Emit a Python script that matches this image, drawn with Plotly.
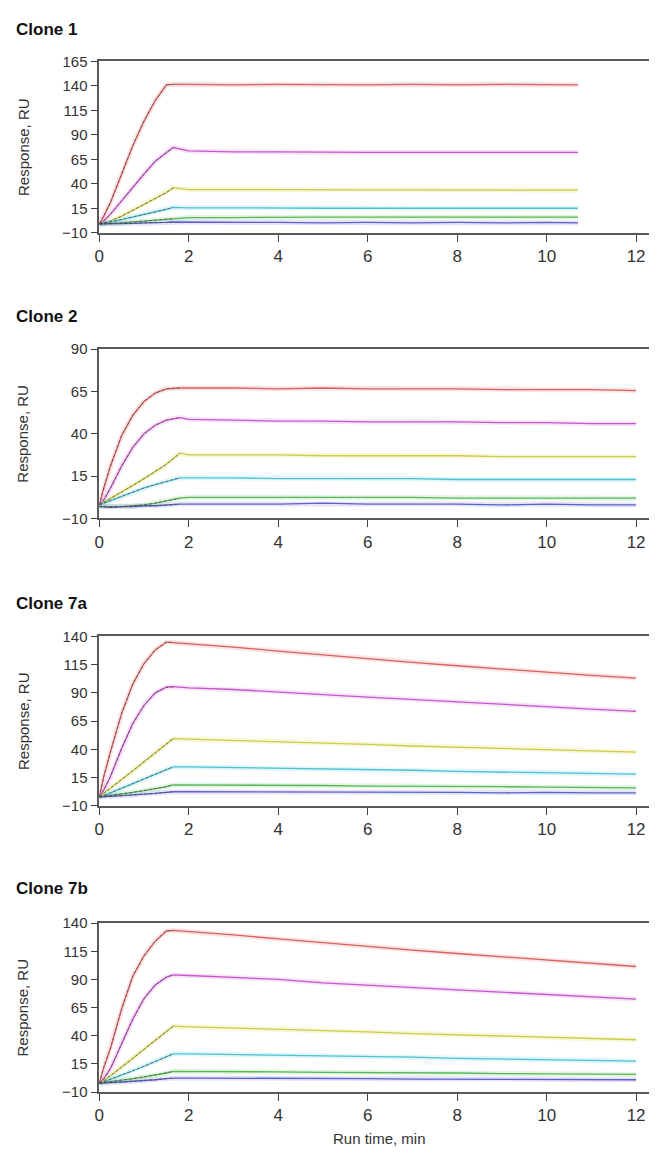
import plotly.graph_objects as go

# The page places the figure 8 px from the top-left corner of the window,
# so the figure is sized to fill the visible area.
OFF = 8
W, H = 657 - 2 * OFF, 1157 - OFF

# ---------------- data ----------------
panel_titles = ["Clone 1", "Clone 2", "Clone 7a", "Clone 7b"]
series_names = ["Red", "Magenta", "Yellow", "Cyan", "Green", "Blue"]

# Clone 1
t1 = [0, 0.1, 0.25, 0.5, 0.75, 1.0, 1.25, 1.5, 1.65, 2, 3, 4, 5, 6, 7, 8, 9, 10, 10.7]
c1_red = [-1, 7, 21, 50, 79, 104, 125, 141, 141.5, 141.5, 141, 141.5, 141, 141, 141.5, 141, 141.5, 141, 141]
c1_magenta = [-1, 2, 9, 23, 37, 50, 63, 72, 77, 73.5, 72.5, 72.5, 72, 72, 72, 72, 72, 72, 72]
c1_yellow = [-1, 0, 2, 7, 13, 19, 25, 31, 36, 34, 34, 34, 34, 33.5, 33.5, 33.5, 33.5, 33.5, 33.5]
c1_cyan = [-1, -0.5, 1, 3.5, 6, 8.5, 11, 14, 16, 15.5, 15.5, 15, 15, 15, 15, 15, 15, 15, 15]
c1_green = [-1, -1, -0.5, 0, 1, 2, 3, 4, 4.5, 5.5, 5.5, 6, 6, 6, 6, 6, 6, 6, 6]
c1_blue = [-1, -1, -1, -0.5, -0.5, 0, 0, 0.5, 1, 1, 0.5, 0.5, 0, 0.5, 0, 0.5, 0, 0.5, 0]
c1_peak = 8

# Clone 2
t2 = [0, 0.1, 0.25, 0.5, 0.75, 1.0, 1.25, 1.5, 1.8, 2, 3, 4, 5, 6, 7, 8, 9, 10, 11, 12]
c2_red = [-2, 8, 21, 39, 51, 59, 64, 66.5, 67, 67, 67, 66.5, 67, 66.5, 66.5, 66.5, 66, 66, 66, 65.5]
c2_magenta = [-2, 1, 8, 21, 32, 40, 45, 48, 49.5, 48.5, 48, 47.5, 47.5, 47, 47, 47, 46.5, 46.5, 46, 46]
c2_yellow = [-2, -0.5, 1.5, 5.5, 9.5, 13.5, 17.5, 22, 28.5, 27.5, 27.5, 27.5, 27, 27, 27, 27, 26.5, 26.5, 26.5, 26.5]
c2_cyan = [-2, -1, 0.5, 3, 5.5, 8, 10, 12, 14, 14, 14, 13.5, 13.5, 13.5, 13.5, 13, 13, 13, 13, 13]
c2_green = [-3, -3, -3, -3, -2.5, -2, -1, 0.5, 2, 2.5, 2.5, 2.5, 2.5, 2.5, 2.5, 2, 2, 2, 2, 2]
c2_blue = [-3, -3, -3.5, -3, -3, -2.5, -2.5, -2, -1.5, -1.5, -1.5, -1.5, -1, -1.5, -1.5, -1.5, -2, -1.5, -2, -2]
c2_peak = 8

# Clone 7a
t3 = [0, 0.1, 0.25, 0.5, 0.75, 1.0, 1.25, 1.5, 1.65, 2, 3, 4, 5, 6, 7, 8, 9, 10, 11, 12]
c7a_red = [-2, 16, 38, 72, 98, 116, 128, 135, 134.5, 133.5, 130.5, 127, 123.5, 120, 117, 114, 111, 108, 105.5, 103]
c7a_magenta = [-2, 4, 16, 41, 63, 79, 90, 95, 95.5, 94.5, 93, 91, 88.5, 86.2, 84, 81.8, 79.7, 77.7, 75.7, 73.7]
c7a_yellow = [-2, 1, 5.5, 13, 21, 29, 37, 45, 49.5, 49, 48, 46.5, 45.5, 44.5, 43, 42, 41, 40, 38.5, 37.5]
c7a_cyan = [-2, -1, 1.5, 5.5, 9.5, 13.5, 17.5, 22, 24.5, 24.5, 24, 23, 22.5, 22, 21.5, 20.5, 20, 19.5, 18.5, 18]
c7a_green = [-2, -1.5, -1, 0.5, 2, 3.5, 5, 7, 8.5, 8.5, 8.5, 8, 8, 7.5, 7.5, 7, 7, 6.5, 6, 6]
c7a_blue = [-2, -2, -1.5, -1, -0.5, 0, 1, 2, 2.5, 2.5, 2.5, 2, 2.5, 2, 2, 2, 1.5, 2, 1.5, 1.5]
c7a_peak = 8

# Clone 7b
c7b_red = [-2, 12, 29, 64, 93, 111, 124, 133, 133.5, 132.5, 129.5, 126, 122.5, 119, 116, 113, 110, 107, 104, 101.5]
c7b_magenta = [-2, 2, 11, 33, 55, 73, 85, 92, 94, 93.5, 92, 90, 87, 85, 83, 81, 79, 77, 74.5, 72.5]
c7b_yellow = [-2, 0, 4.5, 12, 20, 28, 36, 44, 48.5, 48, 47, 46, 44.5, 43.5, 42, 41, 40, 38.5, 37.5, 36.5]
c7b_cyan = [-2, -1, 1.5, 5, 9, 13, 17, 21.5, 24, 24, 23.5, 22.5, 22, 21.5, 21, 20, 19.5, 19, 18, 17.5]
c7b_green = [-2, -1.5, -1, 0.5, 2, 3.5, 5, 7, 8.5, 8.5, 8.5, 8, 7.5, 7.5, 7, 7, 6.5, 6.5, 6, 5.7]
c7b_blue = [-2, -2, -1.5, -1, -0.5, 0, 1, 2, 2.5, 2.5, 2.5, 2, 2, 2, 1.5, 1.5, 1.5, 1.5, 1, 1]
c7b_peak = 8

y_ticks_1 = [-10, 15, 40, 65, 90, 115, 140, 165]
y_ticks_2 = [-10, 15, 40, 65, 90]
y_ticks_3 = [-10, 15, 40, 65, 90, 115, 140]
x_ticks = [0, 2, 4, 6, 8, 10, 12]

panels = [
    (t1, [c1_red, c1_magenta, c1_yellow, c1_cyan, c1_green, c1_blue], c1_peak, y_ticks_1),
    (t2, [c2_red, c2_magenta, c2_yellow, c2_cyan, c2_green, c2_blue], c2_peak, y_ticks_2),
    (t3, [c7a_red, c7a_magenta, c7a_yellow, c7a_cyan, c7a_green, c7a_blue], c7a_peak, y_ticks_3),
    (t3, [c7b_red, c7b_magenta, c7b_yellow, c7b_cyan, c7b_green, c7b_blue], c7b_peak, y_ticks_3),
]

# ---------------- style ----------------
colors = ["rgb(218,95,95)", "rgb(200,85,205)", "rgb(205,205,65)",
          "rgb(75,195,210)", "rgb(85,185,85)", "rgb(95,95,205)"]
halo = ["rgba(218,95,95,0.16)", "rgba(200,85,205,0.16)", "rgba(205,205,65,0.16)",
        "rgba(75,195,210,0.16)", "rgba(85,185,85,0.16)", "rgba(95,95,205,0.16)"]
FONT = "Liberation Sans, Arial, Helvetica, sans-serif"

# target page-pixel geometry
plot_px = [(53, 227), (345, 517), (636.7, 808.7), (927.7, 1099.3)]
title_py = [21, 312, 603, 893]
x0_px, x12_px = 95, 636
px_per_min = (x12_px - x0_px) / 12.0
x_end = (OFF + W - x0_px) / px_per_min


def px(p):
    return (p - OFF) / W


def py(p):
    return 1 - (p - OFF) / H


fig = go.Figure()
layout = dict(
    width=W, height=H, margin=dict(l=0, r=0, t=0, b=0),
    paper_bgcolor="white", plot_bgcolor="white", showlegend=False,
    font=dict(family=FONT, color="#333"),
)
annotations = []

for i, (t, ys, peak, yt) in enumerate(panels):
    n = i + 1
    xa = "x" if n == 1 else f"x{n}"
    ya = "y" if n == 1 else f"y{n}"
    for s, y in enumerate(ys):
        fig.add_trace(go.Scatter(x=t, y=y, mode="lines", xaxis=xa, yaxis=ya,
                                 line=dict(color=halo[s], width=5), hoverinfo="skip"))
    for s, y in enumerate(ys):
        fig.add_trace(go.Scatter(x=t, y=y, mode="lines", xaxis=xa, yaxis=ya,
                                 name=series_names[s],
                                 line=dict(color=colors[s], width=1.3)))
    # fitted curves, visible over the association phase
    for s, y in enumerate(ys):
        fig.add_trace(go.Scatter(x=t[:peak + 1], y=y[:peak + 1], mode="lines",
                                 xaxis=xa, yaxis=ya, hoverinfo="skip",
                                 line=dict(color="rgba(70,70,70,0.75)", width=0.9,
                                           dash="3px,2px")))
    top, bot = plot_px[i]
    xkey = "xaxis" if n == 1 else f"xaxis{n}"
    ykey = "yaxis" if n == 1 else f"yaxis{n}"
    layout[xkey] = dict(
        domain=[px(x0_px), 1.0], range=[0, x_end], anchor=ya,
        tickvals=x_ticks, ticks="outside", ticklen=7, tickwidth=1.2, tickcolor="#444",
        showline=True, linecolor="#5a5a5a", linewidth=1.6, mirror=True,
        showgrid=False, zeroline=False,
        tickfont=dict(size=17, color="#333", family=FONT),
    )
    layout[ykey] = dict(
        domain=[py(bot), py(top)], range=[-10, yt[-1]], anchor=xa,
        tickvals=yt, ticks="outside", ticklen=7, tickwidth=1.2, tickcolor="#444",
        showline=True, linecolor="#5a5a5a", linewidth=1.6,
        showgrid=False, zeroline=False,
        tickfont=dict(size=15, color="#333", family=FONT),
    )
    annotations.append(dict(text="<b>" + panel_titles[i] + "</b>", x=px(9.5), y=py(title_py[i]),
                            xref="paper", yref="paper", xanchor="left", yanchor="middle",
                            showarrow=False, font=dict(size=17, color="#111", family=FONT)))
    annotations.append(dict(text="Response, RU", x=px(18), y=py((top + bot) / 2),
                            xref="paper", yref="paper", xanchor="center", yanchor="middle",
                            textangle=-90, showarrow=False,
                            font=dict(size=15, color="#333", family=FONT)))

annotations.append(dict(text="Run time, min", x=px(377), y=py(1146),
                        xref="paper", yref="paper", xanchor="center", yanchor="middle",
                        showarrow=False, font=dict(size=15, color="#333", family=FONT)))
layout["annotations"] = annotations
fig.update_layout(**layout)
fig.write_html("out.html")
